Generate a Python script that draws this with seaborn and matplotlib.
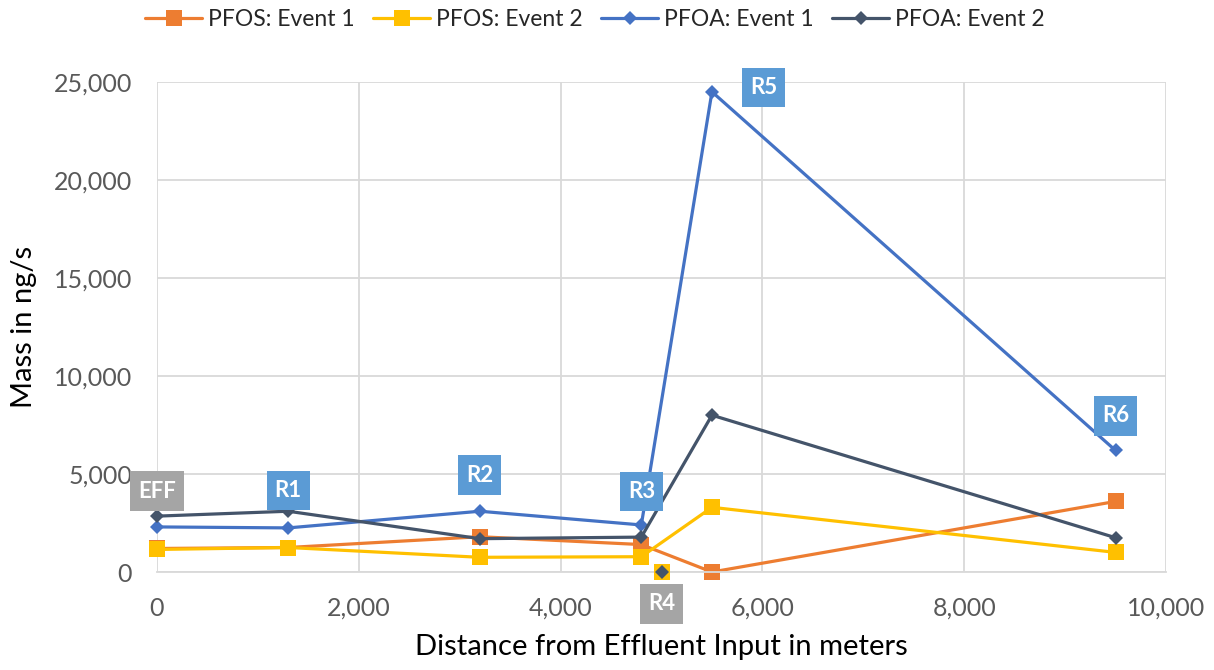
import matplotlib
matplotlib.use("Agg")
import matplotlib.pyplot as plt
import seaborn as sns
import pandas as pd
from matplotlib.path import Path
from matplotlib.ticker import FuncFormatter, MultipleLocator

# Sampling sites along the stream and their distance from the effluent input (m)
sites = ["EFF", "R1", "R2", "R3", "R5", "R6"]
distance_m = [0, 1300, 3200, 4800, 5500, 9500]

# Mass loads in ng/s
pfos_event1 = [1200, 1250, 1800, 1400, 0, 3600]
pfos_event2 = [1150, 1250, 750, 780, 3300, 1000]
pfoa_event1 = [2300, 2250, 3100, 2400, 24500, 6200]
pfoa_event2 = [2850, 3100, 1700, 1780, 8000, 1750]

# Site R4 was only loaded during Event 2
r4_distance_m = 5000
r4_pfos_event2 = 0
r4_pfoa_event2 = 0

series_names = ["PFOS: Event 1", "PFOS: Event 2", "PFOA: Event 1", "PFOA: Event 2"]
series_values = [pfos_event1, pfos_event2, pfoa_event1, pfoa_event2]
colors = ["#ED7D31", "#FFC000", "#4472C4", "#44546A"]
markers = ["s", "s", "D", "D"]
msizes = [11, 11, 7.5, 7.5]

# Site labels: which series point each tag sits near, offset in points, box colour
label_series = ["PFOA: Event 2", "PFOA: Event 2", "PFOA: Event 1", "PFOA: Event 1", "PFOA: Event 1", "PFOA: Event 1"]
label_offsets = [(0, 18), (0, 15), (0, 26), (0, 24), (37, 3), (0, 25)]
label_colors = ["#A5A5A5", "#5B9BD5", "#5B9BD5", "#5B9BD5", "#5B9BD5", "#5B9BD5"]


def tag_box(x0, y0, width, height, mutation_size):
    """Rectangular tag with more vertical than horizontal padding."""
    px = 0.36 * mutation_size
    py = 0.42 * mutation_size
    x0, x1 = x0 - px, x0 + width + px
    y0, y1 = y0 - py, y0 + height + py
    return Path([(x0, y0), (x1, y0), (x1, y1), (x0, y1), (x0, y0)], closed=True)


rows = []
for name, vals in zip(series_names, series_values):
    for s, d, v in zip(sites, distance_m, vals):
        rows.append({"site": s, "distance": d, "mass": v, "series": name})
df = pd.DataFrame(rows)

sns.set_theme(style="white")
plt.rcParams["font.family"] = ["Lato", "DejaVu Sans"]

fig = plt.figure(figsize=(12.14, 6.70), dpi=100)
ax = fig.add_axes([157 / 1214, 1 - 572 / 670, (1166 - 157) / 1214, (572 - 82) / 670])

for name, col, mk, ms in zip(series_names, colors, markers, msizes):
    sub = df[df["series"] == name]
    sns.lineplot(data=sub, x="distance", y="mass", ax=ax, color=col, marker=mk,
                 markersize=ms, markeredgewidth=0, linewidth=2.3, label=name,
                 sort=False, clip_on=False)

# R4 stands alone (no connecting line)
ax.plot([r4_distance_m], [r4_pfos_event2], linestyle="none", marker="s", ms=11,
        mew=0, color=colors[1], clip_on=False, zorder=5)
ax.plot([r4_distance_m], [r4_pfoa_event2], linestyle="none", marker="D", ms=7.5,
        mew=0, color=colors[3], clip_on=False, zorder=6)

box_kw = dict(ha="center", va="center", color="white", fontsize=16, fontweight="bold",
              textcoords="offset points", zorder=10)
for s, ser, off, bc in zip(sites, label_series, label_offsets, label_colors):
    i = sites.index(s)
    y = series_values[series_names.index(ser)][i]
    ax.annotate(s, xy=(distance_m[i], y), xytext=off,
                bbox=dict(boxstyle=tag_box, fc=bc, ec="none"), **box_kw)
ax.annotate("R4", xy=(r4_distance_m, r4_pfoa_event2), xytext=(0, -23),
            bbox=dict(boxstyle=tag_box, fc="#A5A5A5", ec="none"),
            annotation_clip=False, **box_kw)

ax.set_xlim(0, 10000)
ax.set_ylim(0, 25000)
ax.xaxis.set_major_locator(MultipleLocator(2000))
ax.yaxis.set_major_locator(MultipleLocator(5000))
fmt = FuncFormatter(lambda v, p: f"{int(v):,}")
ax.xaxis.set_major_formatter(fmt)
ax.yaxis.set_major_formatter(fmt)
ax.grid(True, color="#D9D9D9", linewidth=1.3)
ax.set_axisbelow(True)
for side in ["left", "top", "right"]:
    ax.spines[side].set_visible(False)
ax.spines["bottom"].set_color("#D9D9D9")
ax.spines["bottom"].set_linewidth(1.3)
ax.tick_params(axis="both", labelsize=18, colors="#595959", length=0)
ax.tick_params(axis="y", pad=18)
ax.tick_params(axis="x", pad=18)
ax.set_xlabel("Distance from Effluent Input in meters", fontsize=21, color="black", labelpad=10)
ax.set_ylabel("Mass in ng/s", fontsize=21, color="black", labelpad=12)

ax.legend(loc="center", bbox_to_anchor=(0.49, (670 - 20) / 670), bbox_transform=fig.transFigure,
          ncol=4, frameon=False, fontsize=16.5, handlelength=2.5, columnspacing=0.8,
          handletextpad=0.25)

fig.savefig("out.png", dpi=100)
